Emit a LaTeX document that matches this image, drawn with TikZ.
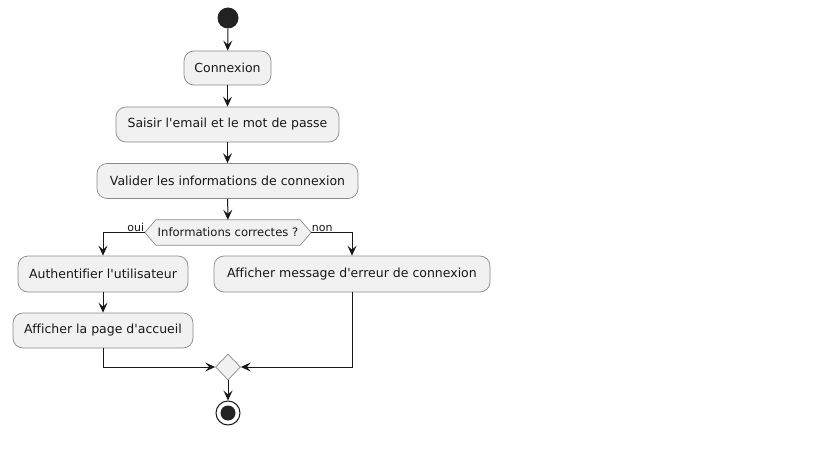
\documentclass[tikz,border=0pt]{standalone}
\usepackage{fontspec}
\setmainfont{DejaVu Sans}[Ligatures={NoCommon}]
\usetikzlibrary{arrows.meta,shapes.geometric}
\definecolor{actfill}{HTML}{F1F1F1}
\definecolor{ink}{HTML}{181818}
\definecolor{edge}{HTML}{8A8A8A}
\definecolor{dot}{HTML}{222222}
\newcommand{\q}{\textquotesingle}
\begin{document}
\begin{tikzpicture}[x=1pt,y=-1pt,
  action/.style={draw=edge,fill=actfill,line width=0.7pt,rounded corners=10pt,
    inner sep=0pt,font=\fontsize{12.5}{14}\selectfont,text=ink},
  flow/.style={draw=ink,line width=1pt,-{Stealth[length=10pt,width=9pt,inset=4pt]}},
  guard/.style={font=\fontsize{11}{12}\selectfont,text=ink,inner sep=0.5pt}]
\useasboundingbox (0,0) rectangle (819,460);

% start and end
\node[circle,fill=dot,minimum size=21pt,inner sep=0pt] (start) at (228,18) {};
\node[circle,draw=ink,line width=1pt,fill=white,minimum size=24pt,inner sep=0pt,
  path picture={\fill[dot] (path picture bounding box.center) circle (7.5pt);}]
  (stop) at (228,413) {};

% actions
\node[action,minimum width=87pt,minimum height=34pt] (conn) at (227.5,68) {Connexion};
\node[action,minimum width=223pt,minimum height=35pt] (saisir) at (227.5,124.5) {Saisir l\q email et le mot de passe};
\node[action,minimum width=261pt,minimum height=35pt] (valider) at (227.5,181) {Valider les informations de connexion};
\node[action,minimum width=170pt,minimum height=36pt] (auth) at (103,274) {Authentifier l\q utilisateur};
\node[action,minimum width=180pt,minimum height=35pt] (page) at (103,330.5) {Afficher la page d\q accueil};
\node[action,minimum width=276pt,minimum height=36pt] (msg) at (352,274) {Afficher message d\q erreur de connexion};

% decision
\node[minimum width=166pt,minimum height=25pt,inner sep=0pt] (dec) at (228,232.5) {};
\draw[draw=edge,fill=actfill,line width=0.7pt]
  (dec.west) -- ([xshift=11pt]dec.north west) -- ([xshift=-11pt]dec.north east)
  -- (dec.east) -- ([xshift=-11pt]dec.south east) -- ([xshift=11pt]dec.south west) -- cycle;
\node[font=\fontsize{11.6}{13}\selectfont,text=ink] (dectext) at (dec) {Informations correctes ?};

% merge
\node[diamond,draw=edge,fill=actfill,line width=0.7pt,minimum width=25pt,
  minimum height=26pt,inner sep=0pt] (merge) at (228,367) {};

% connectors
\draw[flow] (start) -- (conn);
\draw[flow] (conn) -- (saisir);
\draw[flow] (saisir) -- (valider);
\draw[flow] (valider) -- (dec);
\draw[flow] (dec.west) -| (auth.north);
\draw[flow] (dec.east) -| (msg.north);
\draw[flow] (auth) -- (page);
\draw[flow] (page.south) |- (merge.west);
\draw[flow] (msg.south) |- (merge.east);
\draw[flow] (merge) -- (stop);

% guards
\node[guard,anchor=south east] (oui) at (dec.west) {oui};
\node[guard,anchor=south west] (non) at (dec.east) {non};
\end{tikzpicture}
\end{document}
